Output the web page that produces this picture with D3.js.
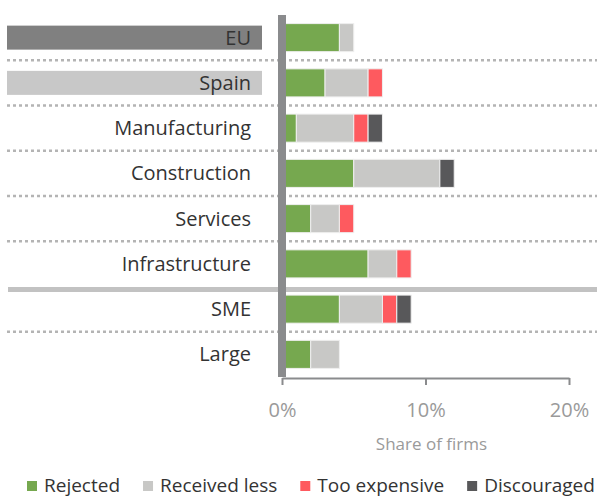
<!DOCTYPE html>
<html><head><meta charset="utf-8">
<script src="https://cdn.jsdelivr.net/npm/d3@7"></script>
<style>
html,body{margin:0;padding:0;background:#fff;}
svg{display:block;font-family:"Open Sans",sans-serif;}
</style></head>
<body>
<svg id="chart" width="597" height="498"></svg>
<script>
const categories = ["EU","Spain","Manufacturing","Construction","Services","Infrastructure","SME","Large"];
const rejected     = [4, 3, 1, 5, 2, 6, 4, 2];
const receivedLess = [1, 3, 4, 6, 2, 2, 3, 2];
const tooExpensive = [0, 1, 1, 0, 1, 1, 1, 0];
const discouraged  = [0, 0, 1, 1, 0, 0, 1, 0];
const seriesNames  = ["Rejected","Received less","Too expensive","Discouraged"];
const seriesColors = ["#76a84f","#c8c8c6","#fe5a5f","#58585a"];
const xTicks = [0, 10, 20];
const xTickLabels = ["0%","10%","20%"];
const axisTitle = "Share of firms";
const highlighted = {"EU":"#808080","Spain":"#c8c8c8"};
const solidAfter = "Infrastructure";

const svg = d3.select("#chart");
const x = d3.scaleLinear().domain([0,20]).range([282,569]);
const y = d3.scaleBand().domain(categories).range([15,377]).paddingInner(0.38).paddingOuter(0.19);

const rows = categories.map((c,i)=>({cat:c, vals:[rejected[i],receivedLess[i],tooExpensive[i],discouraged[i]]}));
const keys = seriesNames;
const table = rows.map(r=>{const o={cat:r.cat}; keys.forEach((k,j)=>o[k]=r.vals[j]); return o;});
const stacked = d3.stack().keys(keys)(table);

// separators
const step = y.step();
categories.slice(1).forEach((c,i)=>{
  const yy = y(c) - step*y.paddingInner()/2;
  const prev = categories[i];
  if(prev===solidAfter){
    svg.append("line").attr("x1",8).attr("x2",597).attr("y1",yy+3).attr("y2",yy+3)
      .attr("stroke","#c2c2c2").attr("stroke-width",5);
  } else {
    svg.append("line").attr("x1",7).attr("x2",597).attr("y1",yy).attr("y2",yy)
      .attr("stroke","#b4b4b4").attr("stroke-width",2.5).attr("stroke-dasharray","3,3");
  }
});

// highlight label boxes
categories.forEach(c=>{
  if(highlighted[c]){
    svg.append("rect").attr("x",7).attr("width",255)
      .attr("y",y(c)+y.bandwidth()/2-12).attr("height",24).attr("fill",highlighted[c]);
  }
});

// labels
svg.append("g").selectAll("text").data(categories).join("text")
  .attr("x",251).attr("y",c=>y(c)+y.bandwidth()/2+7)
  .attr("text-anchor","end").attr("font-size",20).attr("fill","#333")
  .text(c=>c);

// bars
const g = svg.append("g");
stacked.forEach((s,j)=>{
  g.append("g").attr("fill",seriesColors[j]).selectAll("rect").data(s.filter(d=>d[1]-d[0]>0)).join("rect")
    .attr("x",d=>x(d[0])).attr("width",d=>x(d[1])-x(d[0]))
    .attr("y",d=>y(d.data.cat)).attr("height",y.bandwidth())
    .attr("stroke","#efefef").attr("stroke-width",1);
});

// vertical axis line
svg.append("rect").attr("x",x(0)-4).attr("width",8).attr("y",15).attr("height",377-15).attr("fill","#8a8b8d");

// x axis
const xa = svg.append("g").attr("transform","translate(0,378)")
  .call(d3.axisBottom(x).tickValues(xTicks).tickSize(7).tickSizeOuter(0).tickFormat((d,i)=>xTickLabels[i]));
xa.select(".domain").attr("stroke","#8a8b8d").attr("stroke-width",2);
xa.selectAll(".tick line").attr("stroke","#8a8b8d").attr("stroke-width",2);
xa.selectAll(".tick text").attr("font-family","Open Sans").attr("font-size",20).attr("fill","#9a9a9a").attr("y",null).attr("dy",null)
  .attr("transform","translate(0,39)");

svg.append("text").attr("x",(x(0)+x(20))/2+6).attr("y",450).attr("text-anchor","middle")
  .attr("font-size",17).attr("fill","#9a9a9a").text(axisTitle);

// legend
let lx = 27;
const lg = svg.append("g");
seriesNames.forEach((n,j)=>{
  lg.append("rect").attr("x",lx).attr("y",481).attr("width",10).attr("height",10).attr("fill",seriesColors[j]);
  const t = lg.append("text").attr("x",lx+17).attr("y",492).attr("font-size",19).attr("fill","#333").text(n);
  lx = lx + 17 + t.node().getComputedTextLength() + 23;
});
</script>
</body></html>
